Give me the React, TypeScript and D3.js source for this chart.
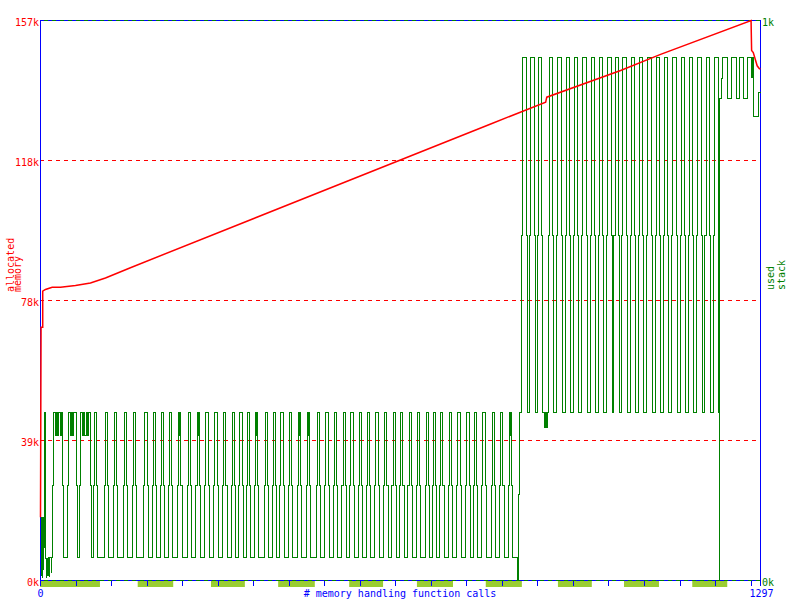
import * as d3 from "d3";

// memusage style chart: heap (allocated memory) + stack over call index

const TOTAL_CALLS = 1297;
const HEAP_MAX = 157; // k
const STACK_MAX = 1024; // bytes

// dashed heap grid lines (quarters of max) and their labels
const heapGrid = [39.25, 78.5, 117.75];
const heapGridLabels = ["39k", "78k", "118k"];

// allocated memory (call index, kbytes)
const heapCalls = [0, 1, 4, 4, 9, 21, 36, 63, 90, 117, 162, 811, 910, 912, 1045, 1117, 1280, 1281, 1284, 1291, 1295, 1297];
const heapKb = [17.7, 71, 71, 81.1, 81.6, 82.2, 82.2, 82.7, 83.4, 84.8, 87.7, 128.0, 134.1, 135.5, 143.0, 147.5, 157, 148.6, 148.0, 144.3, 143.5, 143.5];

// stack levels (bytes) in first and second phase
const levelsA = [42, 174, 307]; // low, shoulder, high
const levelsB = [307, 631, 956];

// start of the run (call, bytes)
const stackStart: [number, number][] = [
  [0, 115], [1, 10], [2, 60], [3, 5], [4, 115], [5, 20], [6, 60], [7, 307], [9, 40], [10, 5],
  [11, 40], [13, 10], [14, 42], [16, 8], [17, 42], [19, 15], [20, 42],
];

// pulses of phase A: [shoulder up, top start, top end, shoulder down]
const pulsesA: number[][] = [
  [22, 24, 40, 42], [48, 50, 64, 66], [70, 72, 90, 92], [95, 97, 101, 103], [115, 117, 121, 123],
  [131, 133, 137, 139], [149, 151, 155, 157], [165, 167, 171, 173], [186, 188, 192, 194], [201, 203, 207, 209],
  [216, 218, 222, 224], [230, 232, 236, 238], [247, 249, 253, 255], [264, 266, 270, 272], [280, 282, 286, 288],
  [296, 298, 302, 304], [312, 314, 318, 320], [328, 330, 334, 336], [344, 346, 350, 352], [357, 359, 363, 365],
  [371, 373, 377, 379], [385, 387, 391, 393], [403, 405, 409, 411], [418, 420, 424, 426], [431, 433, 437, 439],
  [446, 448, 452, 454], [463, 465, 469, 471], [479, 481, 485, 487], [497, 499, 503, 505], [512, 514, 518, 520],
  [527, 529, 533, 535], [543, 545, 549, 551], [557, 559, 563, 565], [572, 574, 578, 580], [587, 589, 593, 595],
  [602, 604, 608, 610], [618, 620, 624, 626], [633, 635, 639, 641], [647, 649, 653, 655], [662, 664, 668, 670],
  [677, 679, 683, 685], [693, 695, 699, 701], [706, 708, 712, 714], [719, 721, 725, 727], [735, 737, 741, 743],
  [750, 752, 756, 758], [766, 768, 772, 774], [780, 782, 786, 788], [795, 797, 801, 803], [812, 814, 818, 820],
  [827, 829, 833, 835], [843, 845, 849, 851],
];

// short dips on some of the plateaus (call, bytes)
const stackRipples: [number, number][] = [
  [27, 265], [28, 307], [31, 265], [33, 307], [36, 265], [37, 307],
  [54, 265], [55, 307], [58, 265], [60, 307],
  [76, 265], [77, 307], [80, 265], [82, 307], [85, 265], [86, 307],
  [250, 265], [251, 307], [284, 265], [285, 307], [389, 265], [390, 307],
  [466, 265], [467, 307], [483, 265], [484, 307], [846, 265], [847, 307],
  [908, 280], [910, 307], [911, 280], [913, 307],
];

// switch between the phases
const stackSwitch: [number, number][] = [[860, 0], [861, 157], [862, 307]];

const pulsesB: number[][] = [
  [867, 869, 875, 877], [881, 883, 889, 891], [895, 897, 903, 905], [915, 917, 923, 925], [930, 932, 938, 940],
  [945, 947, 953, 955], [960, 962, 968, 970], [975, 977, 983, 985], [990, 992, 998, 1000], [1005, 1007, 1013, 1015],
  [1020, 1022, 1028, 1030], [1033, 1035, 1041, 1043], [1047, 1049, 1055, 1057], [1062, 1064, 1070, 1072],
  [1077, 1079, 1085, 1087], [1092, 1094, 1100, 1102], [1107, 1109, 1115, 1117], [1122, 1124, 1130, 1132],
  [1137, 1139, 1145, 1147], [1152, 1154, 1160, 1162], [1167, 1169, 1175, 1177], [1182, 1184, 1190, 1192],
  [1197, 1199, 1205, 1207], [1212, 1214, 1221, 1222],
];

// end of the run
const stackEnd: [number, number][] = [
  [1222, 444], [1223, 0], [1224, 881], [1226, 918], [1228, 956], [1237, 881], [1244, 956], [1254, 881],
  [1260, 956], [1267, 881], [1273, 956], [1280, 920], [1282, 956], [1284, 848], [1293, 892], [1297, 892],
];

// light green marks under the x axis (call ranges)
const markStarts = [0, 176, 308, 429, 557, 679, 803, 933, 1052, 1175];
const markEnds = [108, 240, 369, 495, 618, 744, 868, 994, 1115, 1238];

const TICK_STEP = 64;

function pulsePoints(pulses: number[][], levels: number[]) {
  const pts: [number, number][] = [];
  pulses.forEach(([a, b, c, d]) => {
    pts.push([a, levels[1]], [b, levels[2]], [c, levels[1]], [d, levels[0]]);
  });
  return pts;
}

export default function App() {
  const left = 40, right = 760, top = 20, bottom = 580;
  const x = d3.scaleLinear().domain([0, TOTAL_CALLS]).range([left + 0.5, right + 0.5]);
  const yHeap = d3.scaleLinear().domain([0, HEAP_MAX]).range([bottom + 0.5, top + 0.5]);
  const yStack = d3.scaleLinear().domain([0, STACK_MAX]).range([bottom + 0.5, top + 0.5]);

  const stackData: [number, number][] = [
    ...stackStart,
    ...pulsePoints(pulsesA, levelsA),
    ...stackSwitch,
    ...pulsePoints(pulsesB, levelsB),
    ...stackEnd,
    ...stackRipples,
  ];
  // stable sort keeps same-call points in the order given
  stackData.sort((a, b) => a[0] - b[0]);

  const stackLine = d3
    .line<[number, number]>()
    .x((d) => x(d[0]))
    .y((d) => yStack(d[1]))
    .curve(d3.curveStepAfter);

  const heapData = heapCalls.map((c, i) => [c, heapKb[i]] as [number, number]);
  const heapLine = d3
    .line<[number, number]>()
    .x((d) => x(d[0]))
    .y((d) => yHeap(d[1]));

  const ticks = d3.range(0, TOTAL_CALLS, TICK_STEP).concat([TOTAL_CALLS]);
  const font = "'DejaVu Sans Mono', monospace";

  return (
    <svg
      width={800}
      height={600}
      style={{ position: "absolute", left: 0, top: 0, background: "#fff" }}
      fontFamily={font}
      fontSize={10}
    >
      {/* marks under the axis */}
      {markStarts.map((s, i) => (
        <rect key={"m" + i} x={x(s) - 0.5} y={581} width={x(markEnds[i]) - x(s)} height={6} fill="#9acd32" />
      ))}

      {/* heap grid */}
      {heapGrid.map((g, i) => (
        <line key={"g" + i} x1={left} x2={right} y1={yHeap(g)} y2={yHeap(g)}
          stroke="#ff0000" strokeDasharray="4 4" shapeRendering="crispEdges" />
      ))}

      {/* frame */}
      <line x1={left + 0.5} x2={left + 0.5} y1={top} y2={bottom + 1} stroke="#0000ff" />
      <line x1={right + 0.5} x2={right + 0.5} y1={top} y2={bottom + 6} stroke="#0000ff" />
      <line x1={left} x2={right + 1} y1={top + 0.5} y2={top + 0.5} stroke="#0000ff" />
      <line x1={left} x2={right + 1} y1={top + 0.5} y2={top + 0.5} stroke="#008000" strokeDasharray="4 4" strokeDashoffset={-4} />
      <line x1={left} x2={right + 1} y1={bottom + 0.5} y2={bottom + 0.5} stroke="#0000ff" />
      <line x1={left} x2={right + 1} y1={bottom + 0.5} y2={bottom + 0.5} stroke="#008000" strokeDasharray="4 4" strokeDashoffset={-4} />
      {ticks.map((t) => (
        <line key={"t" + t} x1={Math.round(x(t) - 0.5) + 0.5} x2={Math.round(x(t) - 0.5) + 0.5} y1={581} y2={586} stroke="#0000ff" />
      ))}

      {/* series */}
      <path d={stackLine(stackData) ?? ""} fill="none" stroke="#008000" strokeWidth={1} shapeRendering="crispEdges" />
      <path d={heapLine(heapData) ?? ""} fill="none" stroke="#ff0000" strokeWidth={1.5} />

      {/* left labels */}
      <text x={39} y={yHeap(HEAP_MAX) + 5} textAnchor="end" fill="#ff0000">157k</text>
      {heapGrid.map((g, i) => (
        <text key={"l" + i} x={39} y={yHeap(g) + 5} textAnchor="end" fill="#ff0000">{heapGridLabels[i]}</text>
      ))}
      <text x={39} y={yHeap(0) + 5} textAnchor="end" fill="#ff0000">0k</text>

      {/* right labels */}
      <text x={762} y={yStack(STACK_MAX) + 5} fill="#008000">1k</text>
      <text x={762} y={yStack(0) + 5} fill="#008000">0k</text>

      {/* bottom labels */}
      <text x={x(0)} y={597} textAnchor="middle" fill="#0000ff">0</text>
      <text x={x(TOTAL_CALLS) + 1} y={597} textAnchor="middle" fill="#0000ff">{TOTAL_CALLS}</text>
      <text x={400} y={597} textAnchor="middle" fill="#0000ff"># memory handling function calls</text>

      {/* axis titles */}
      <text transform="translate(13.5,292) rotate(-90)" fill="#ff0000">allocated</text>
      <text transform="translate(21,292) rotate(-90)" fill="#ff0000">memory</text>
      <text transform="translate(773.5,290) rotate(-90)" fill="#008000">used</text>
      <text transform="translate(784.5,290) rotate(-90)" fill="#008000">stack</text>
    </svg>
  );
}
